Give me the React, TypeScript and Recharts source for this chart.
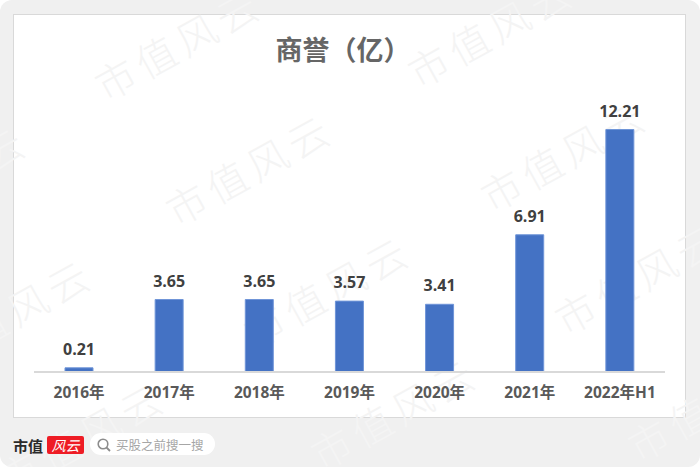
import React from 'react';
import { BarChart, Bar, XAxis, YAxis, LabelList } from 'recharts';

const years = ['2016年', '2017年', '2018年', '2019年', '2020年', '2021年', '2022年H1'];
const goodwill = [0.21, 3.65, 3.65, 3.57, 3.41, 6.91, 12.21];

const tableData = years.map((year, i) => ({ year, goodwill: goodwill[i] }));

const FONT = '"Open Sans", "Noto Sans CJK SC", sans-serif';

// repeated background watermark, centre of each text
const marks = [
  [178, 43], [491, 30], [249, 168], [564, 154], [-56, 180], [9, 313],
  [327, 290], [638, 277], [82, 436], [394, 412], [711, 404],
];

const Watermark = ({ x, y }: { x: number; y: number }) => (
  <div
    style={{
      position: 'absolute',
      left: x,
      top: y,
      fontFamily: '"Noto Sans CJK SC"',
      fontWeight: 300,
      fontSize: 40,
      lineHeight: '44px',
      letterSpacing: 6,
      whiteSpace: 'nowrap',
      color: '#f4f4f4',
      transform: 'translate(-50%, -50%) rotate(-29deg)',
      pointerEvents: 'none',
    }}
  >
    市值风云
  </div>
);

export default function App() {
  return (
    <div
      style={{
        position: 'absolute',
        left: 0,
        top: 0,
        width: 700,
        height: 467,
        background: '#f0f0f0',
        borderRadius: 12,
        overflow: 'hidden',
      }}
    >
      {/* white card */}
      <div
        style={{
          position: 'absolute',
          left: 13,
          top: 14,
          width: 671,
          height: 402,
          background: '#fff',
          border: '1px solid #d9d9d9',
        }}
      />

      {marks.map(([x, y], i) => (
        <Watermark key={i} x={x} y={y} />
      ))}

      <div
        style={{
          position: 'absolute',
          left: 0,
          width: 686,
          top: 29,
          textAlign: 'center',
          fontFamily: '"Noto Sans CJK SC"',
          fontWeight: 700,
          fontSize: 27,
          lineHeight: '40px',
          color: '#666',
        }}
      >
        商誉（亿）
      </div>

      <div style={{ position: 'absolute', left: 0, top: 0 }}>
        <BarChart
          width={700}
          height={467}
          data={tableData}
          margin={{ top: 94, right: 35, bottom: 65, left: 34 }}
        >
          <XAxis
            dataKey="year"
            height={30}
            interval={0}
            tickLine={false}
            axisLine={{ stroke: '#d9d9d9', strokeWidth: 2 }}
            tick={{ fontFamily: FONT, fontSize: 15.5, fontWeight: 700, fill: '#595959' }}
            tickMargin={9}
          />
          <YAxis hide domain={[0, 14]} />
          <Bar
            dataKey="goodwill"
            fill="#4472c4"
            stroke="#6f95d8"
            strokeWidth={1}
            barSize={28}
            isAnimationActive={false}
          >
            <LabelList
              dataKey="goodwill"
              position="top"
              offset={13}
              formatter={(v: number) => v.toFixed(2)}
              style={{ fontFamily: FONT, fontSize: 16, fontWeight: 700, fill: '#404040' }}
            />
          </Bar>
        </BarChart>
      </div>

      {/* footer brand and search box */}
      <div
        style={{
          position: 'absolute',
          left: 13,
          top: 436,
          fontFamily: '"Noto Sans CJK SC"',
          fontWeight: 700,
          fontSize: 15,
          lineHeight: '20px',
          color: '#2b2b2b',
        }}
      >
        市值
      </div>
      <div
        style={{
          position: 'absolute',
          left: 47,
          top: 436,
          width: 37,
          height: 18,
          background: '#ee1c25',
          borderRadius: 2,
          fontFamily: '"Noto Sans CJK SC"',
          fontStyle: 'italic',
          fontSize: 14,
          lineHeight: '18px',
          textAlign: 'center',
          color: '#fff',
        }}
      >
        风云
      </div>
      <div
        style={{
          position: 'absolute',
          left: 90,
          top: 433,
          width: 125,
          height: 22,
          borderRadius: 11,
          background: '#fff',
        }}
      />
      <svg style={{ position: 'absolute', left: 96, top: 437 }} width={16} height={16}>
        <circle cx={7} cy={7} r={4.8} fill="none" stroke="#8c8c8c" strokeWidth={1.6} />
        <line x1={10.5} y1={10.5} x2={14} y2={14} stroke="#8c8c8c" strokeWidth={1.8} />
      </svg>
      <div
        style={{
          position: 'absolute',
          left: 116,
          top: 435,
          fontFamily: '"Noto Sans CJK SC"',
          fontSize: 12.5,
          lineHeight: '19px',
          color: '#a6a6a6',
          whiteSpace: 'nowrap',
        }}
      >
        买股之前搜一搜
      </div>
    </div>
  );
}
